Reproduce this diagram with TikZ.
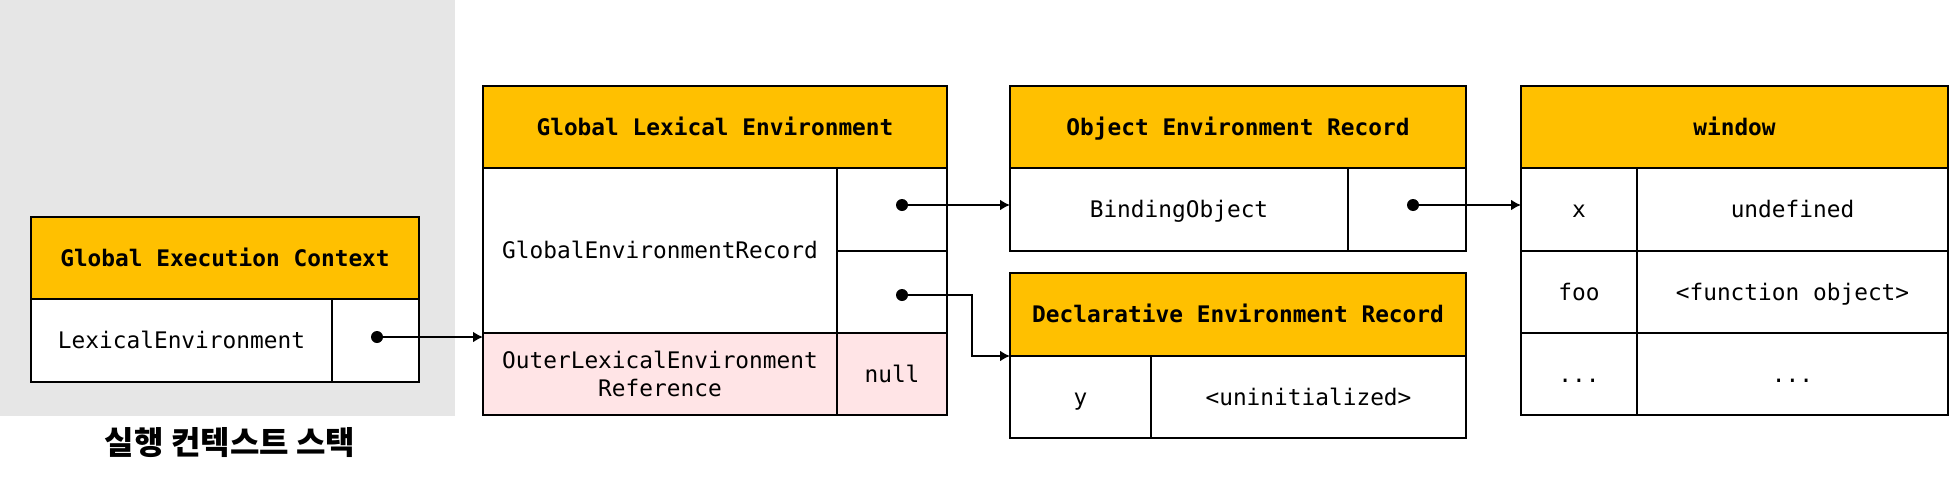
\documentclass[tikz,border=0pt]{standalone}
\usepackage{fontspec}
\setmonofont{DejaVu Sans Mono}
\newfontfamily\krfont{Noto Sans CJK KR}
\usetikzlibrary{arrows.meta}

\definecolor{headyellow}{HTML}{FFC000}
\definecolor{outerpink}{HTML}{FFE4E6}
\definecolor{stackgray}{HTML}{E6E6E6}

\newcommand\px{0.5pt}

\tikzset{
  cell/.style={draw=black, line width=1pt, fill=white, anchor=north west,
    inner sep=0pt, outer sep=0pt, text height=8.3pt, text depth=0pt,
    font=\ttfamily\fontsize{11.4}{14}\selectfont},
  headcell/.style={cell, fill=headyellow,
    font=\ttfamily\bfseries\fontsize{11.4}{14}\selectfont},
  outercell/.style={cell, fill=outerpink},
  ptr/.style={line width=1.2pt, -{Latex[length=5pt,width=5.5pt]}},
  refdot/.style={circle, fill=black, inner sep=0pt, minimum size=6pt}
}

\begin{document}
\begin{tikzpicture}[x=0.5pt,y=-0.5pt]

  \useasboundingbox (0,0) rectangle (1949,477);

  %% execution context stack
  \node[fill=stackgray, anchor=north west, inner sep=0pt,
    minimum width=455*\px, minimum height=416*\px] (stack) at (0,0) {};
  \node[font=\krfont\bfseries\fontsize{16}{19}\selectfont] (stacklabel)
    at (230,443) {실행 컨텍스트 스택};

  \node[headcell, minimum width=388*\px, minimum height=82*\px] (gechead)
    at (31,217) {Global Execution Context};
  \node[cell, minimum width=301*\px, minimum height=83*\px] (geckey)
    at (31,299) {LexicalEnvironment};
  \node[cell, minimum width=87*\px, minimum height=83*\px] (gecptr)
    at (332,299) {};

  %% global lexical environment
  \node[headcell, minimum width=464*\px, minimum height=82*\px] (glehead)
    at (483,86) {Global Lexical Environment};
  \node[cell, minimum width=354*\px, minimum height=165*\px] (glerec)
    at (483,168) {GlobalEnvironmentRecord};
  \node[cell, minimum width=110*\px, minimum height=83*\px] (gleptra)
    at (837,168) {};
  \node[cell, minimum width=110*\px, minimum height=82*\px] (gleptrb)
    at (837,251) {};
  \node[outercell, minimum width=354*\px, minimum height=82*\px,
    text height=, text depth=, align=center] (gleouter)
    at (483,333) {OuterLexicalEnvironment\\Reference};
  \node[outercell, minimum width=110*\px, minimum height=82*\px] (glenull)
    at (837,333) {null};

  %% object environment record
  \node[headcell, minimum width=456*\px, minimum height=82*\px] (oerhead)
    at (1010,86) {Object Environment Record};
  \node[cell, minimum width=338*\px, minimum height=83*\px] (oerkey)
    at (1010,168) {BindingObject};
  \node[cell, minimum width=118*\px, minimum height=83*\px] (oerptr)
    at (1348,168) {};

  %% declarative environment record
  \node[headcell, minimum width=456*\px, minimum height=83*\px] (derhead)
    at (1010,273) {Declarative Environment Record};
  \node[cell, minimum width=141*\px, minimum height=82*\px] (derkey)
    at (1010,356) {y};
  \node[cell, minimum width=315*\px, minimum height=82*\px] (derval)
    at (1151,356) {<uninitialized>};

  %% window
  \node[headcell, minimum width=427*\px, minimum height=82*\px] (winhead)
    at (1521,86) {window};
  \node[cell, minimum width=116*\px, minimum height=83*\px] (winkeya)
    at (1521,168) {x};
  \node[cell, minimum width=311*\px, minimum height=83*\px] (winvala)
    at (1637,168) {undefined};
  \node[cell, minimum width=116*\px, minimum height=82*\px] (winkeyb)
    at (1521,251) {foo};
  \node[cell, minimum width=311*\px, minimum height=82*\px] (winvalb)
    at (1637,251) {<function object>};
  \node[cell, minimum width=116*\px, minimum height=82*\px] (winkeyc)
    at (1521,333) {...};
  \node[cell, minimum width=311*\px, minimum height=82*\px] (winvalc)
    at (1637,333) {...};

  %% reference dots
  \node[refdot] (gecdot) at (377,337) {};
  \node[refdot] (gledota) at (902,205) {};
  \node[refdot] (gledotb) at (902,295) {};
  \node[refdot] (oerdot) at (1413,205) {};
  \coordinate (bend) at (972,356);

  %% references
  \draw[ptr] (gecdot.center) -- (gecdot.center -| gleouter.west);
  \draw[ptr] (gledota.center) -- (gledota.center -| oerkey.west);
  \draw[ptr] (gledotb.center) -| (bend) -- (derhead.south west);
  \draw[ptr] (oerdot.center) -- (oerdot.center -| winkeya.west);

\end{tikzpicture}
\end{document}
